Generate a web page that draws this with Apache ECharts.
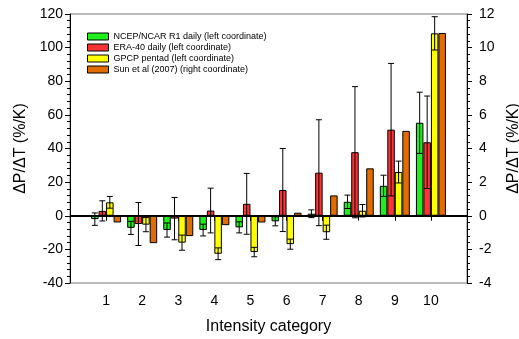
<!DOCTYPE html>
<html>
<head>
<meta charset="utf-8">
<script src="https://cdn.jsdelivr.net/npm/echarts@6/dist/echarts.min.js"></script>
<style>
  html, body { margin: 0; padding: 0; background: #fff; }
  #chart { width: 519px; height: 339px; }
</style>
</head>
<body>
<div id="chart"></div>
<script>
// intensity categories 1..10
const categories = [1, 2, 3, 4, 5, 6, 7, 8, 9, 10]

// dP/dT in %/K, left coordinate
const ncep = [-2, -7.2, -8.5, -8.5, -6.9, -3.3, 1.2, 8.3, 17.8, 55.3]
const ncepErr = [3.7, 3.9, 4.2, 3.5, 3.3, 2.7, 2.3, 4, 6.3, 18.2]
const era = [2.9, -4.9, -1.7, 3.1, 7.1, 15.3, 25.6, 37.8, 51.2, 43.7]
const eraErr = [6, 12.8, 12.6, 13.3, 18.1, 24.7, 31.5, 39, 39.4, 27.5]
const gpcp = [8, -5.3, -16, -22.6, -21.6, -16.9, -9.8, 3, 26, 108.5]
const gpcpErr = [3.5, 4.2, 4.5, 3.5, 2.8, 3, 4.2, 3.7, 6.5, 9.9]
// right coordinate
const sun = [-0.4, -1.63, -1.21, -0.56, -0.4, 0.18, 1.21, 2.82, 5.05, 10.87]

const leftTicks = { min: -40, max: 120, interval: 20 }
const rightTicks = { min: -4, max: 12, interval: 2 }

const colors = { ncep: '#1ef01e', era: '#ff3333', gpcp: '#ffff00', sun: '#e36c00' }
const BAR_W = 7.5

const chart = echarts.init(document.getElementById('chart'))

const pair = (vals) => categories.map((c, i) => [c, vals[i]])
const triple = (vals, errs) => categories.map((c, i) => [c, vals[i], errs[i]])

function errorBars(offset) {
  return function (params, api) {
    const x = api.value(0)
    const v = api.value(1)
    const e = api.value(2)
    const hi = api.coord([x, v + e])
    const lo = api.coord([x, v - e])
    const cx = hi[0] + offset
    const style = { stroke: '#000', lineWidth: 1 }
    return {
      type: 'group',
      children: [
        { type: 'line', shape: { x1: cx, y1: hi[1], x2: cx, y2: lo[1] }, style },
        { type: 'line', shape: { x1: cx - 3, y1: hi[1], x2: cx + 3, y2: hi[1] }, style },
        { type: 'line', shape: { x1: cx - 3, y1: lo[1], x2: cx + 3, y2: lo[1] }, style },
      ],
    }
  }
}

function bar(name, vals, color, yIdx) {
  return {
    name,
    type: 'bar',
    yAxisIndex: yIdx,
    data: pair(vals),
    barWidth: BAR_W,
    barGap: '0%',
    itemStyle: { color, borderColor: '#000', borderWidth: 1 },
  }
}

function errSeries(vals, errs, offset) {
  return {
    type: 'custom',
    yAxisIndex: 0,
    data: triple(vals, errs),
    encode: { x: 0, y: [1, 2] },
    renderItem: errorBars(offset),
    z: 10,
    silent: true,
  }
}

const axisText = { color: '#000', fontSize: 14, fontFamily: 'Liberation Sans' }
const nameText = { color: '#000', fontSize: 16, fontFamily: 'Liberation Sans' }

chart.setOption({
  animation: false,
  textStyle: { fontFamily: 'Liberation Sans' },
  grid: {
    left: 70, right: 52, top: 14, bottom: 56,
    outerBoundsMode: 'none',
    containLabel: false,
    show: true, borderColor: '#777', borderWidth: 1,
  },
  legend: {
    orient: 'vertical',
    left: 82, top: 26,
    icon: 'rect',
    itemWidth: 21, itemHeight: 7, itemGap: 0, itemStyle: { borderColor: '#000', borderWidth: 1 },
    textStyle: { fontSize: 9, lineHeight: 11, color: '#000', padding: [0, 0, 0, 0] },
    data: [
      'NCEP/NCAR R1 daily (left coordinate)',
      'ERA-40 daily (left coordinate)',
      'GPCP pentad (left coordinate)',
      'Sun et al (2007) (right coordinate)',
    ],
  },
  xAxis: {
    type: 'value',
    min: 0, max: 11, interval: 1,
    name: 'Intensity category',
    nameLocation: 'middle',
    nameGap: 36,
    nameTextStyle: nameText,
    axisLine: { lineStyle: { color: '#555' } },
    axisTick: { length: 5, lineStyle: { color: '#000' } },
    axisLabel: Object.assign({ margin: 11, formatter: (v) => (v >= 1 && v <= 10 ? v : '') }, axisText),
    splitLine: { show: false },
  },
  yAxis: [
    Object.assign({}, leftTicks, {
      type: 'value',
      position: 'left',
      name: 'ΔP/ΔT (%/K)',
      nameLocation: 'middle',
      nameGap: 41,
      nameTextStyle: nameText,
      axisLine: { show: true, lineStyle: { color: '#000' } },
      axisTick: { show: true, length: 5, lineStyle: { color: '#000' } },
      minorTick: { show: true, splitNumber: 5, length: 3, lineStyle: { color: '#000' } },
      axisLabel: Object.assign({ margin: 7 }, axisText),
      splitLine: { show: false },
    }),
    Object.assign({}, rightTicks, {
      type: 'value',
      position: 'right',
      name: 'ΔP/ΔT (%/K)',
      nameLocation: 'middle',
      nameRotate: 90,
      nameGap: 27,
      nameTextStyle: nameText,
      axisLine: { show: true, lineStyle: { color: '#000' } },
      axisTick: { show: true, length: 5, lineStyle: { color: '#000' } },
      minorTick: { show: true, splitNumber: 5, length: 3, lineStyle: { color: '#000' } },
      axisLabel: Object.assign({ margin: 12 }, axisText),
      splitLine: { show: false },
    }),
  ],
  series: [
    Object.assign(bar('NCEP/NCAR R1 daily (left coordinate)', ncep, colors.ncep, 0), {
      markLine: {
        silent: true,
        symbol: 'none',
        label: { show: false },
        lineStyle: { color: '#000', width: 2, type: 'solid' },
        data: [{ yAxis: 0 }],
      },
    }),
    bar('ERA-40 daily (left coordinate)', era, colors.era, 0),
    bar('GPCP pentad (left coordinate)', gpcp, colors.gpcp, 0),
    bar('Sun et al (2007) (right coordinate)', sun, colors.sun, 1),
    errSeries(ncep, ncepErr, -1.5 * BAR_W),
    errSeries(era, eraErr, -0.5 * BAR_W),
    errSeries(gpcp, gpcpErr, 0.5 * BAR_W),
  ],
})
</script>
</body>
</html>
